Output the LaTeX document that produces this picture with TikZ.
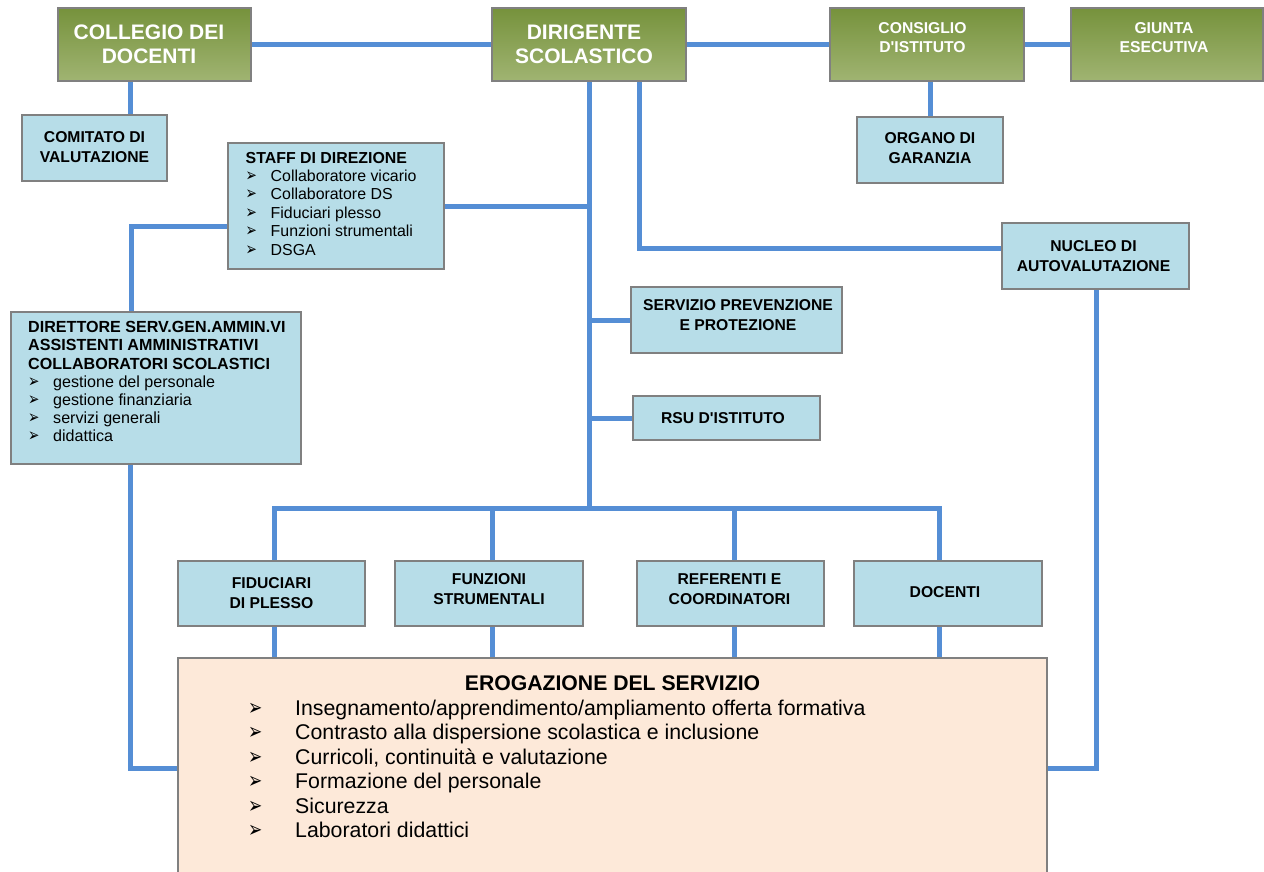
\documentclass[tikz,border=0pt]{standalone}
\usepackage{fontspec}
\setmainfont{Liberation Sans}[Ligatures=TeXOff]
\newfontfamily\djv{DejaVu Sans}
\definecolor{lineblue}{HTML}{558ED5}
\definecolor{boxgray}{HTML}{808080}
\definecolor{gtop}{HTML}{76923C}
\definecolor{gbot}{HTML}{A0B472}
\definecolor{lblue}{HTML}{B7DDE8}
\definecolor{peach}{HTML}{FDE9D9}
\newcommand{\bulS}{\makebox[25pt][l]{\djv\fontsize{13.5}{13.5}\selectfont\scalebox{1}[1.35]{➢}}}
\newcommand{\bulL}{\makebox[47pt][l]{\djv\fontsize{17}{17}\selectfont\scalebox{1}[1.35]{➢}}}
\pgfdeclarelayer{bg}
\pgfsetlayers{bg,main}
\begin{document}
\begin{tikzpicture}[x=1pt,y=-1pt,
  conn/.style={draw=lineblue, line width=5pt},
  gbox/.style={draw=boxgray, line width=2pt, top color=gtop, bottom color=gbot, inner sep=0pt},
  bbox/.style={draw=boxgray, line width=2pt, fill=lblue, inner sep=0pt},
  pbox/.style={draw=boxgray, line width=2pt, fill=peach, inner sep=0pt},
  gtxt/.style={text=white, font=\bfseries\fontsize{21}{23.5}\selectfont, align=center, inner sep=0pt},
  gtxts/.style={text=white, font=\bfseries\fontsize{15.7}{19}\selectfont, align=center, inner sep=0pt},
  btxt/.style={font=\bfseries\fontsize{15.7}{20}\selectfont, align=center, inner sep=0pt},
  ltxt/.style={font=\fontsize{15.9}{18.4}\selectfont, align=left, inner sep=0pt},
  ltxtb/.style={font=\fontsize{16.1}{18.2}\selectfont, align=left, inner sep=0pt},
  etxt/.style={font=\fontsize{21.3}{24.4}\selectfont, align=left, inner sep=0pt},
]
\useasboundingbox (0,0) rectangle (1264,872);

% boxes
\node[gbox, minimum width=193pt, minimum height=73pt] (col) at (154.5,44.5) {};
\node[gbox, minimum width=194pt, minimum height=73pt] (dir) at (589,44.5) {};
\node[gbox, minimum width=194pt, minimum height=73pt] (cons) at (927,44.5) {};
\node[gbox, minimum width=192pt, minimum height=73pt] (giu) at (1167,44.5) {};
\node[bbox, minimum width=145pt, minimum height=66pt] (com) at (94.5,148) {};
\node[bbox, minimum width=146pt, minimum height=66pt] (org) at (930,150) {};
\node[bbox, minimum width=216pt, minimum height=126pt] (staff) at (336,206) {};
\node[bbox, minimum width=187pt, minimum height=66pt] (nuc) at (1095.5,256) {};
\node[bbox, minimum width=290pt, minimum height=152pt] (dsga) at (156,388) {};
\node[bbox, minimum width=211pt, minimum height=66pt] (serv) at (736.5,320) {};
\node[bbox, minimum width=187pt, minimum height=44pt] (rsu) at (726.5,418) {};
\node[bbox, minimum width=187pt, minimum height=65pt] (fid) at (271.5,593.5) {};
\node[bbox, minimum width=188pt, minimum height=65pt] (fun) at (489,593.5) {};
\node[bbox, minimum width=187pt, minimum height=65pt] (ref) at (730.5,593.5) {};
\node[bbox, minimum width=188pt, minimum height=65pt] (doc) at (948,593.5) {};
\node[pbox, minimum width=869pt, minimum height=217pt] (ero) at (612.5,766.5) {};

% texts
\node[gtxt] (colT) at ([xshift=-5.5pt]col.center) {COLLEGIO DEI\\DOCENTI};
\node[gtxt] (dirT) at ([xshift=-5pt]dir.center) {DIRIGENTE\\SCOLASTICO};
\node[gtxts] (consT) at ([xshift=-4.5pt,yshift=7pt]cons.center) {CONSIGLIO\\D'ISTITUTO};
\node[gtxts] (giuT) at ([xshift=-3pt,yshift=7pt]giu.center) {GIUNTA\\ESECUTIVA};
\node[btxt] (comT) at ([yshift=1pt]com.center) {COMITATO DI\\VALUTAZIONE};
\node[btxt] (orgT) at ([yshift=2pt]org.center) {ORGANO DI\\GARANZIA};
\node[btxt] (nucT) at ([xshift=-2pt]nuc.center) {NUCLEO DI\\AUTOVALUTAZIONE};
\node[btxt] (servT) at ([xshift=1.5pt,yshift=5pt]serv.center) {SERVIZIO PREVENZIONE\\E PROTEZIONE};
\node[btxt] (rsuT) at ([xshift=-3.5pt]rsu.center) {RSU D'ISTITUTO};
\node[btxt] (fidT) at (fid.center) {FIDUCIARI\\DI PLESSO};
\node[btxt] (funT) at ([yshift=4.5pt]fun.center) {FUNZIONI\\STRUMENTALI};
\node[btxt] (refT) at ([xshift=-1pt,yshift=4pt]ref.center) {REFERENTI E\\COORDINATORI};
\node[btxt] (docT) at ([xshift=-3pt,yshift=1.5pt]doc.center) {DOCENTI};

\node[ltxt, anchor=base west] (staffT) at (245.5,255) {\textbf{STAFF DI DIREZIONE}\\
\bulS Collaboratore vicario\\
\bulS Collaboratore DS\\
\bulS Fiduciari plesso\\
\bulS Funzioni strumentali\\
\bulS DSGA};

\node[ltxtb, anchor=base west] (dsgaT) at (28,441.8) {\textbf{DIRETTORE SERV.GEN.AMMIN.VI}\\
\textbf{ASSISTENTI AMMINISTRATIVI}\\
\textbf{COLLABORATORI SCOLASTICI}\\
\bulS gestione del personale\\
\bulS gestione finanziaria\\
\bulS servizi generali\\
\bulS didattica};

\node[font=\bfseries\fontsize{21.2}{24}\selectfont, inner sep=0pt, anchor=base] (eroT) at (612.5,690.5) {EROGAZIONE DEL SERVIZIO};
\node[etxt, anchor=base west] (eroL) at (248,837.5) {\bulL Insegnamento/apprendimento/ampliamento offerta formativa\\
\bulL Contrasto alla dispersione scolastica e inclusione\\
\bulL Curricoli, continuità e valutazione\\
\bulL Formazione del personale\\
\bulL Sicurezza\\
\bulL Laboratori didattici};

% connectors
\begin{pgfonlayer}{bg}
\coordinate (tA) at (589,508);
\coordinate (t2) at (639,248);
\coordinate (c1) at (130,100);
\coordinate (l1) at (131,226);
\coordinate (l2) at (130,768);
\coordinate (r1) at (1096,768);
\coordinate (b1) at (274,508);
\coordinate (b2) at (492,508);
\coordinate (b3) at (734,508);
\coordinate (b4) at (939,508);
\draw[conn] (col.east) -- (dir.west);
\draw[conn] (dir.east) -- (cons.west);
\draw[conn] (cons.east) -- (giu.west);
\draw[conn] (col.south -| c1) -- (com.north -| c1);
\draw[conn] (cons.south -| org.north) -- (org.north);
\draw[conn] (dir.south) -- (tA);
\draw[conn] (dir.south -| t2) -- (t2) -- (nuc.west |- t2);
\draw[conn] (staff.east) -- (staff.east -| tA);
\draw[conn] (staff.west |- l1) -- (l1) -- (dsga.north -| l1);
\draw[conn] (serv.west) -- (serv.west -| tA);
\draw[conn] (rsu.west) -- (rsu.west -| tA);
\draw[conn] (fid.north -| b1) -- (b1) -- (b4) -- (doc.north -| b4);
\draw[conn] (fun.north -| b2) -- (b2);
\draw[conn] (ref.north -| b3) -- (b3);
\draw[conn] (fid.south -| b1) -- (ero.north -| b1);
\draw[conn] (fun.south -| b2) -- (ero.north -| b2);
\draw[conn] (ref.south -| b3) -- (ero.north -| b3);
\draw[conn] (doc.south -| b4) -- (ero.north -| b4);
\draw[conn] (dsga.south -| l2) -- (l2) -- (ero.west |- l2);
\draw[conn] (nuc.south -| r1) -- (r1) -- (ero.east |- r1);
\end{pgfonlayer}
\end{tikzpicture}
\end{document}
